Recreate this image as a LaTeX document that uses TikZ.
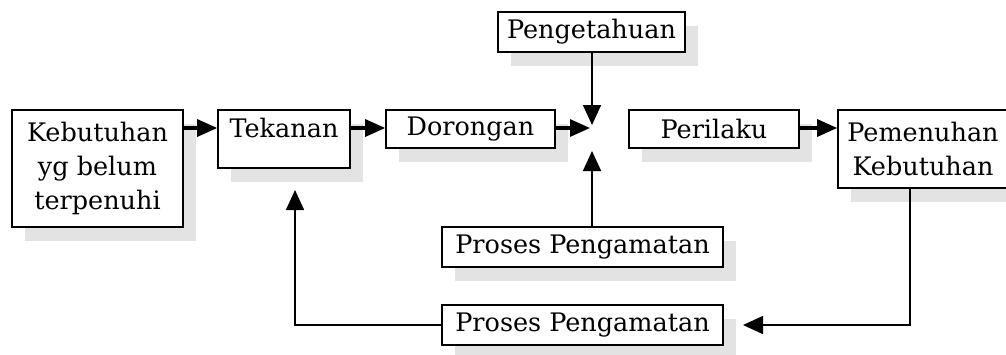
\documentclass[tikz,border=0pt]{standalone}
\usepackage{fontspec}
\setmainfont{DejaVu Serif}
\usetikzlibrary{arrows.meta,shadows}
\begin{document}
\begin{tikzpicture}[x=1pt,y=-1pt,
  box/.style={draw, line width=1.6pt, inner sep=0pt, fill=white,
    font=\fontsize{25.5}{34}\selectfont,
    drop shadow={shadow xshift=13pt, shadow yshift=-14pt, fill=black!11, opacity=1}},
  arr/.style={line width=1.6pt, -{Triangle[length=20pt,width=18pt]}},
  thickarr/.style={line width=3.2pt, -{Triangle[length=20pt,width=17pt]}}]
\clip (0,0) rectangle (1006,354);
\useasboundingbox (0,0) rectangle (1006,354);
\fill[white] (0,0) rectangle (1006,354);

\node[box, minimum width=171pt, minimum height=117pt, align=center] (keb) at (97.5,168.5) {Kebutuhan\\yg belum\\terpenuhi};
\node[box, minimum width=132pt, text height=27pt, text depth=31pt, anchor=base] (tek) at (284,137) {Tekanan};
\node[box, minimum width=169pt, minimum height=38pt] (dor) at (470.5,129) {Dorongan};
\node[box, minimum width=187pt, minimum height=40pt] (peng) at (591.5,32) {Pengetahuan};
\node[box, minimum width=170pt, minimum height=38pt] (per) at (714,129) {Perilaku};
\node[box, minimum width=170pt, minimum height=78pt, align=center] (pem) at (923,149) {Pemenuhan\\Kebutuhan};
\node[box, minimum width=281pt, minimum height=40pt] (pros1) at (582.5,247) {Proses Pengamatan};
\node[box, minimum width=281pt, minimum height=40pt] (pros2) at (582.5,325) {Proses Pengamatan};

\coordinate (jA) at (590,128);
\coordinate (jB) at (592,125);
\coordinate (jC) at (592,151);
\coordinate (fbx) at (910,0);
\coordinate (fbT) at (743,325);
\coordinate (tkT) at (295,190);

\draw[thickarr] (keb.east |- jA) -- (tek.west |- jA);
\draw[thickarr] (tek.east |- jA) -- (dor.west |- jA);
\draw[thickarr] (dor.east |- jA) -- (jA);
\draw[arr] (peng.south -| jB) -- (jB);
\draw[arr] (pros1.north -| jC) -- (jC);
\draw[thickarr] (per.east |- jA) -- (pem.west |- jA);
\draw[arr] (pem.south -| fbx) |- (fbT);
\draw[arr] (pros2.west) -| (tkT);
\end{tikzpicture}
\end{document}
